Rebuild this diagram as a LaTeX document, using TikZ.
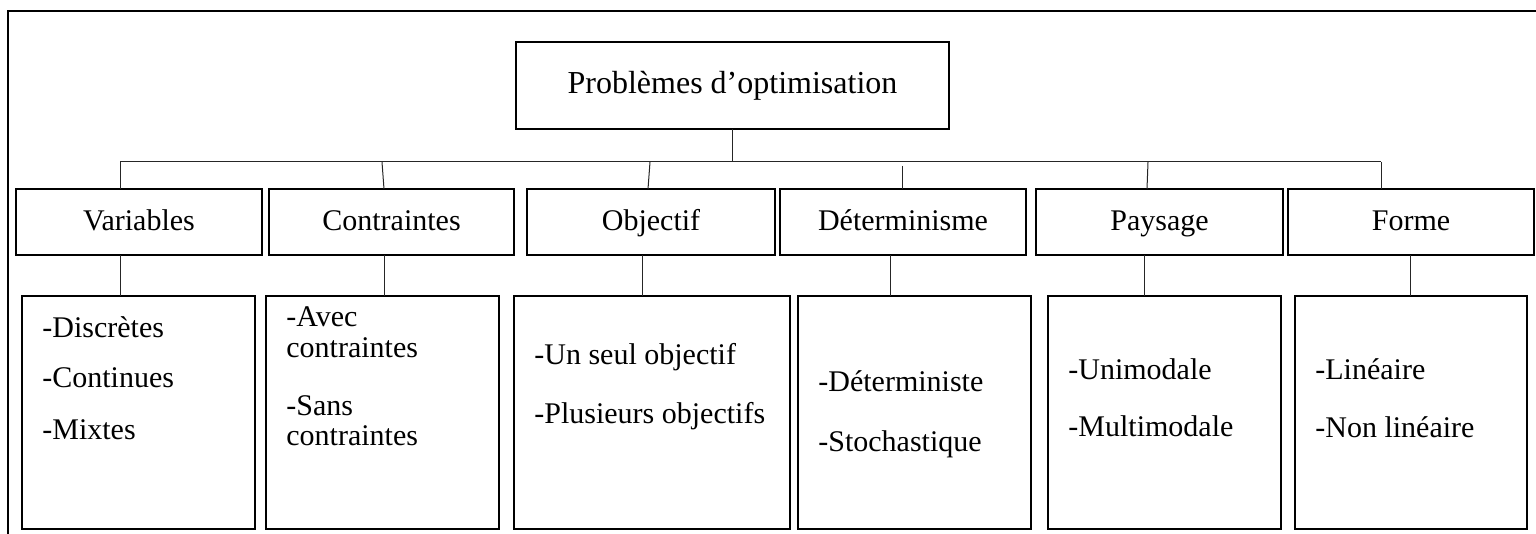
\documentclass[tikz,border=0pt]{standalone}
\usepackage{fontspec}
\setmainfont{Liberation Serif}
\begin{document}
\begin{tikzpicture}[x=0.5pt,y=-0.5pt,
  boxstyle/.style={draw=black,line width=1.2pt,inner sep=0pt,outer sep=0pt,fill=none},
  topbox/.style={boxstyle,minimum width=216.5pt,minimum height=43.5pt,
     font=\fontsize{16}{19}\selectfont,text height=0.85em,text depth=0em},
  hdrbox/.style={boxstyle,minimum height=33pt,
     font=\fontsize{15}{18}\selectfont,text height=0.9em,text depth=0.04em},
  detbox/.style={boxstyle,minimum height=116.5pt},
  item/.style={anchor=base west,inner sep=0pt,font=\fontsize{15}{18}\selectfont},
  conn/.style={draw=black!85,line width=0.5pt},
  frame/.style={draw=black,line width=0.8pt}]
\useasboundingbox (0,0) rectangle (1536,534);
\fill[white] (0,0) rectangle (1536,534);
% outer frame
\coordinate (fa) at (8,560);
\coordinate (fb) at (8,11);
\coordinate (fc) at (1560,11);
\draw[frame] (fa) -- (fb) -- (fc);
% top box
\node[topbox] (top) at (732.5,85.5) {Problèmes d’optimisation};
% headers
\node[hdrbox,minimum width=123pt]   (hv) at (139,222)   {Variables};
\node[hdrbox,minimum width=122.5pt] (hc) at (391.5,222) {Contraintes};
\node[hdrbox,minimum width=124pt]   (ho) at (651,222)   {Objectif};
\node[hdrbox,minimum width=123pt]   (hd) at (903,222)   {Déterminisme};
\node[hdrbox,minimum width=123.5pt] (hp) at (1159.5,222){Paysage};
\node[hdrbox,minimum width=123pt]   (hf) at (1411,222)  {Forme};
% detail boxes
\node[detbox,minimum width=116.5pt] (dv) at (138.5,412.5) {};
\node[detbox,minimum width=116.5pt] (dc) at (382.5,412.5) {};
\node[detbox,minimum width=138pt]   (do) at (652,412.5)   {};
\node[detbox,minimum width=116.5pt] (dd) at (914.5,412.5) {};
\node[detbox,minimum width=116.5pt] (dp) at (1164.5,412.5){};
\node[detbox,minimum width=116pt]   (df) at (1411,412.5)  {};
% detail texts
\node[item] (v1) at (42,337) {-Discrètes};
\node[item] (v2) at (42,387) {-Continues};
\node[item] (v3) at (42,439) {-Mixtes};
\node[item] (c1) at (286,327) {-Avec};
\node[item] (c2) at (286,357) {contraintes};
\node[item] (c3) at (286,415) {-Sans};
\node[item] (c4) at (286,445) {contraintes};
\node[item] (o1) at (534,364) {-Un seul objectif};
\node[item] (o2) at (534,423) {-Plusieurs objectifs};
\node[item] (d1) at (818,391) {-Déterministe};
\node[item] (d2) at (818,451) {-Stochastique};
\node[item] (p1) at (1068,379) {-Unimodale};
\node[item] (p2) at (1068,436) {-Multimodale};
\node[item] (f1) at (1315,379) {-Linéaire};
\node[item] (f2) at (1315,437) {-Non linéaire};
% bus
\coordinate (bv) at (120,162);
\coordinate (bc) at (382,162);
\coordinate (bo) at (650,162);
\coordinate (bt) at (732.5,162);
\coordinate (bd) at (902,166);
\coordinate (bp) at (1148,162);
\coordinate (bf) at (1381,162);
\draw[conn] (bv) -- (bf);
\draw[conn] (top.south) -- (bt);
\draw[conn] (bv) -- (bv |- hv.north);
\draw[conn] (bc) -- (384,189);
\draw[conn] (bo) -- (648,189);
\draw[conn] (bd) -- (bd |- hd.north);
\draw[conn] (bp) -- (1147,189);
\draw[conn] (bf) -- (bf |- hf.north);
% header to detail
\draw[conn] (hv.south -| 120,0) -- (dv.north -| 120,0);
\draw[conn] (hc.south -| 384,0) -- (dc.north -| 384,0);
\draw[conn] (ho.south -| 642,0) -- (do.north -| 642,0);
\draw[conn] (hd.south -| 890,0) -- (dd.north -| 890,0);
\draw[conn] (hp.south -| 1144,0) -- (dp.north -| 1144,0);
\draw[conn] (hf.south -| 1410,0) -- (df.north -| 1410,0);
\end{tikzpicture}
\end{document}
